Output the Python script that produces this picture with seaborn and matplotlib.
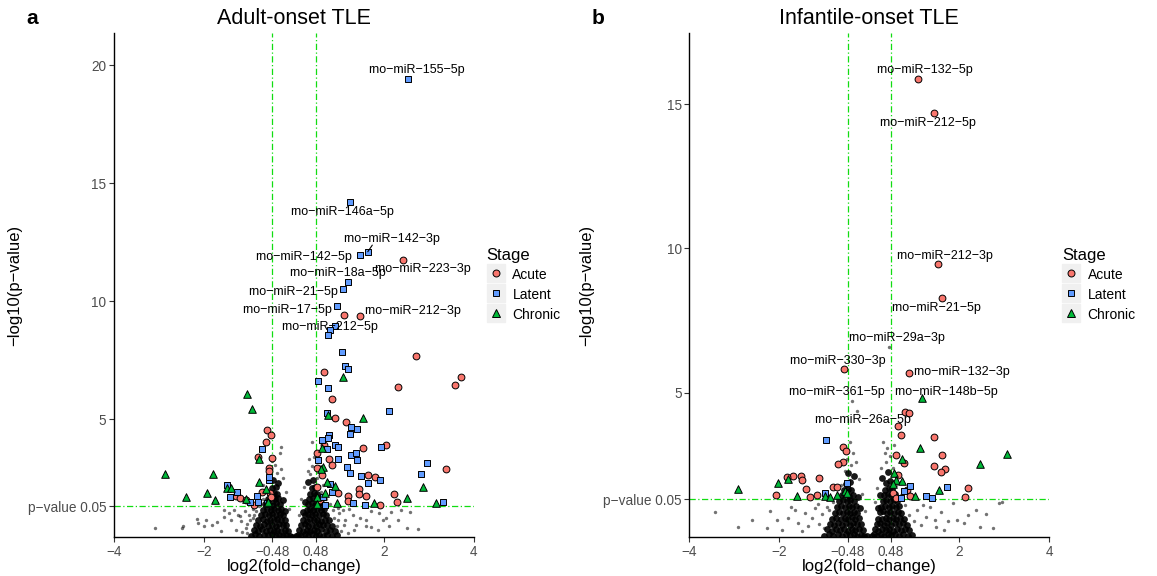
import pandas as pd
import matplotlib
matplotlib.use("Agg")
import matplotlib.pyplot as plt
import seaborn as sns
from matplotlib.lines import Line2D
from matplotlib.legend_handler import HandlerTuple

M = "\u2212"  # ggplot draws hyphens as true minus signs

STAGES = ["Acute", "Latent", "Chronic"]
PALETTE = {"Acute": "#F8766D", "Latent": "#619CFF", "Chronic": "#00BA38"}
MARKERS = {"Acute": "o", "Latent": "s", "Chronic": "^"}
SIZES = {"Acute": 24, "Latent": 18, "Chronic": 30}
GREEN = "#11DD11"

# --- a: Adult-onset TLE (log2FC, -log10 p) ---
adult_acute = [
    (2.42, 11.74), (1.10, 9.42), (1.46, 9.35), (2.7, 7.66), (3.7, 6.77), (3.58, 6.44),
    (0.67, 7.0), (2.3, 6.34), (0.85, 5.85), (0.9, 5.03), (1.16, 4.89), (0.67, 3.9),
    (1.54, 3.78), (2.04, 3.9), (0.5, 3.57), (0.77, 3.3), (0.84, 3.05), (3.37, 2.88),
    (1.65, 2.63), (1.8, 2.53), (0.5, 2.91), (0.62, 2.63), (1.45, 2.03), (1.45, 1.82),
    (1.6, 1.74), (0.98, 1.85), (1.21, 1.75), (2.23, 1.81), (2.28, 1.5), (1.19, 1.53),
    (1.9, 1.36), (0.58, 1.57), (0.5, 2.13),
    (-0.61, 4.53), (-0.51, 4.32), (-0.62, 4.04), (-0.79, 3.38), (-0.48, 3.33),
    (-0.55, 2.91), (-0.55, 2.8), (-0.72, 1.92), (-1.29, 1.74), (-1.2, 1.64),
    (-0.89, 1.36), (-0.53, 1.85), (-0.52, 1.7), (-1.07, 1.55),
]
adult_latent = [
    (2.53, 19.4), (1.24, 14.2), (1.64, 12.07), (1.46, 11.95), (1.21, 10.82), (1.08, 10.5),
    (0.95, 9.79), (0.90, 8.95), (0.8, 8.77), (0.75, 8.55), (1.06, 7.85), (1.13, 7.25),
    (1.21, 7.12), (0.54, 6.61), (0.76, 6.3), (2.12, 5.34), (0.74, 5.27), (1.27, 4.67),
    (1.39, 4.56), (1.24, 4.36), (0.78, 4.32), (0.76, 4.18), (0.62, 4.11), (0.9, 3.9),
    (0.98, 3.8), (0.73, 3.71), (1.93, 3.8), (1.27, 3.47), (1.38, 3.57), (0.97, 3.3),
    (1.39, 3.26), (0.54, 3.26), (2.95, 3.12), (1.18, 2.95), (1.24, 2.72), (2.82, 2.67),
    (1.49, 2.6), (1.91, 2.42), (1.65, 2.3), (0.8, 2.25), (0.84, 1.92), (0.65, 1.71),
    (1.3, 1.43), (1.58, 1.36), (3.32, 1.5), (0.69, 1.36),
    (-0.72, 3.74), (-1.48, 2.2), (-1.26, 1.92), (-1.42, 1.68), (-0.83, 1.74),
    (-0.98, 1.5), (-0.79, 1.5), (-0.55, 2.42), (-0.56, 2.55), (-0.6, 1.45),
]
adult_chronic = [
    (1.08, 6.77), (1.54, 5.03), (0.75, 5.17), (0.63, 3.76), (0.65, 2.98), (0.6, 2.9),
    (0.73, 2.34), (0.9, 2.16), (2.86, 2.1), (2.5, 1.67), (3.15, 1.45), (1.78, 1.43),
    (0.95, 1.43), (0.69, 1.85), (0.5, 1.7), (0.52, 1.38),
    (-1.05, 6.06), (-0.94, 5.41), (-2.87, 2.67), (-1.81, 2.67), (-2.41, 1.71),
    (-1.93, 1.85), (-1.76, 1.57), (-1.48, 2.06), (-1.41, 2.06), (-0.78, 3.29),
    (-0.77, 2.34), (-1.07, 1.6), (-0.63, 2.02), (-0.61, 1.43), (-0.58, 1.5),
]
# non-significant miRNAs: dense volcano core and the sparse spray around it
adult_core = [
    (-0.96, 0.06), (-0.86, 0.12), (-0.77, 0.04), (-0.67, 0.1), (-0.58, 0.07), (-0.49, 0.13),
    (-0.41, 0.05), (-0.33, 0.1), (-0.25, 0.04), (-0.17, 0.09), (-0.1, 0.05), (-0.05, 0.02),
    (-0.9, 0.3), (-0.8, 0.25), (-0.71, 0.32), (-0.62, 0.27), (-0.53, 0.3), (-0.45, 0.24),
    (-0.37, 0.31), (-0.29, 0.26), (-0.21, 0.3), (-0.13, 0.27),
    (-0.85, 0.52), (-0.75, 0.47), (-0.66, 0.54), (-0.57, 0.48), (-0.49, 0.52), (-0.41, 0.46),
    (-0.33, 0.53), (-0.25, 0.49), (-0.17, 0.51),
    (-0.8, 0.7), (-0.7, 0.75), (-0.61, 0.69), (-0.53, 0.74), (-0.45, 0.7), (-0.37, 0.76),
    (-0.29, 0.71), (-0.21, 0.73),
    (-0.74, 0.93), (-0.65, 0.97), (-0.56, 0.92), (-0.48, 0.98), (-0.4, 0.94), (-0.32, 0.97),
    (-0.25, 0.92),
    (-0.69, 1.15), (-0.6, 1.2), (-0.52, 1.14), (-0.44, 1.19), (-0.36, 1.16), (-0.29, 1.2),
    (-0.64, 1.38), (-0.55, 1.42), (-0.47, 1.37), (-0.39, 1.43), (-0.32, 1.4),
    (-0.58, 1.6), (-0.5, 1.65), (-0.42, 1.61), (-0.35, 1.64),
    (-0.53, 1.83), (-0.45, 1.88), (-0.38, 1.84), (-0.49, 2.08), (-0.41, 2.14),
    (-0.46, 2.4), (-0.35, 2.3), (-0.25, 1.55), (-0.2, 1.1),
    (0.04, 0.03), (0.09, 0.08), (0.16, 0.05), (0.24, 0.11), (0.32, 0.06), (0.4, 0.12),
    (0.48, 0.05), (0.56, 0.1), (0.65, 0.04), (0.74, 0.09), (0.84, 0.06), (0.95, 0.1),
    (0.12, 0.29), (0.2, 0.25), (0.28, 0.31), (0.36, 0.26), (0.44, 0.3), (0.52, 0.24),
    (0.61, 0.32), (0.7, 0.27), (0.8, 0.3), (0.9, 0.26),
    (0.16, 0.5), (0.24, 0.53), (0.32, 0.47), (0.4, 0.52), (0.48, 0.48), (0.56, 0.54),
    (0.65, 0.49), (0.74, 0.52), (0.84, 0.47),
    (0.2, 0.72), (0.28, 0.69), (0.36, 0.75), (0.44, 0.7), (0.52, 0.74), (0.6, 0.69),
    (0.69, 0.73), (0.78, 0.7),
    (0.24, 0.94), (0.31, 0.98), (0.39, 0.92), (0.47, 0.97), (0.55, 0.93), (0.64, 0.98),
    (0.72, 0.93),
    (0.28, 1.16), (0.35, 1.2), (0.43, 1.14), (0.51, 1.19), (0.59, 1.15), (0.67, 1.2),
    (0.31, 1.39), (0.39, 1.43), (0.47, 1.37), (0.55, 1.42), (0.63, 1.38),
    (0.34, 1.61), (0.42, 1.65), (0.5, 1.6), (0.58, 1.64),
    (0.36, 1.84), (0.44, 1.88), (0.52, 1.83), (0.39, 2.08), (0.47, 2.13),
    (0.42, 2.4), (0.3, 2.35), (0.25, 1.5), (0.2, 1.05),
]
adult_spray = [
    (-0.38, 2.7), (-0.42, 3.05), (-0.31, 3.55), (-0.28, 3.8), (0.36, 2.65), (0.4, 3.0),
    (0.39, 4.04), (0.44, 3.4),
    (-0.62, 1.9), (-0.55, 2.6), (-0.5, 3.2), (-0.3, 2.9), (-0.25, 2.5), (-0.18, 1.9),
    (-0.7, 1.6), (-0.78, 1.3), (-0.85, 1.1), (-1.05, 0.55), (-1.2, 0.9), (0.15, 1.6),
    (0.22, 2.1), (0.3, 2.8), (0.5, 2.5), (0.55, 3.0), (0.6, 1.9), (0.7, 1.6), (0.8, 1.4),
    (0.88, 0.8), (1.1, 0.5), (0.33, 3.3), (-0.12, 1.2), (0.1, 0.95), (-0.92, 0.8),
    (0.98, 0.7), (-0.68, 2.2), (0.65, 2.2),
    (-3.09, 0.37), (-2.5, 0.37), (-2.47, 0.47), (-2.16, 0.75), (-2.13, 0.58), (-2.0, 0.45),
    (-1.96, 0.7), (-1.82, 0.5), (-1.56, 1.14), (-1.55, 0.83), (-1.44, 1.0), (-1.4, 0.7),
    (-1.33, 1.15), (-1.25, 0.93), (-1.18, 0.66), (-1.1, 1.1), (-1.07, 0.4), (-1.0, 0.95),
    (-0.97, 0.7), (-1.3, 0.3), (-1.62, 0.25), (-0.92, 1.2), (-1.15, 0.2), (-0.88, 0.95),
    (-1.72, 0.62), (-1.05, 0.15),
    (0.87, 1.14), (1.0, 1.0), (1.08, 1.15), (1.14, 0.7), (1.3, 0.95), (1.37, 0.5),
    (1.47, 0.8), (1.6, 0.45), (1.7, 1.1), (1.88, 1.0), (2.05, 0.8), (2.12, 0.45),
    (2.37, 1.15), (2.5, 0.37), (2.76, 0.33), (2.32, 0.72), (2.58, 1.07), (1.87, 0.3),
    (1.7, 0.44), (1.6, 0.72), (1.34, 0.3), (1.97, 0.72), (2.15, 1.07), (0.95, 0.45),
    (1.05, 0.25), (1.2, 0.15), (0.98, 1.25), (1.22, 1.2),
]
adult_label_names = [
    "rno-miR-155-5p", "rno-miR-146a-5p", "rno-miR-142-3p", "rno-miR-142-5p",
    "rno-miR-223-3p", "rno-miR-18a-5p", "rno-miR-21-5p", "rno-miR-17-5p",
    "rno-miR-212-3p", "rno-miR-212-5p",
]
adult_label_xy = [
    (2.71, 19.8), (1.07, 13.78), (2.17, 12.63), (0.22, 11.88), (2.85, 11.34),
    (0.97, 11.17), (-0.01, 10.39), (-0.15, 9.62), (2.64, 9.59), (0.79, 8.89),
]

# --- b: Infantile-onset TLE ---
infant_acute = [
    (1.08, 15.87), (1.44, 14.68), (1.52, 9.45), (1.62, 8.27), (-0.56, 5.81), (0.88, 5.69),
    (0.79, 4.34), (0.88, 4.28), (0.63, 3.84), (0.7, 3.53), (1.44, 3.45), (-0.58, 3.11),
    (-0.52, 2.99), (0.59, 2.84), (1.61, 2.84), (-0.58, 2.61), (-0.69, 2.52), (0.76, 2.57),
    (1.44, 2.47), (1.68, 2.36), (1.59, 2.24), (-1.7, 2.11), (-1.52, 2.11), (-1.5, 1.97),
    (-1.11, 2.03), (0.64, 2.15), (-1.41, 1.65), (-0.81, 1.72), (-0.71, 1.72),
    (-2.07, 1.45), (-1.32, 1.4), (-1.16, 1.45), (0.53, 1.51), (0.59, 1.34), (0.83, 1.63),
    (0.9, 1.42), (2.2, 1.69), (2.13, 1.37), (-1.82, 2.09),
]
infant_latent = [
    (-0.97, 3.36), (-0.5, 1.86), (-0.98, 1.53), (0.9, 1.77), (0.76, 1.59), (0.71, 1.34),
    (1.25, 1.42), (1.39, 1.34), (1.73, 1.72),
]
infant_chronic = [
    (1.18, 4.8), (1.13, 3.07), (3.05, 2.86), (2.46, 2.53), (0.72, 2.7), (0.55, 2.23),
    (0.59, 1.97), (0.72, 1.94), (0.52, 1.84), (1.55, 1.63), (1.02, 1.42), (-2.91, 1.65),
    (-2.04, 1.86), (-1.8, 2.01), (-1.61, 1.42), (-0.98, 1.42), (-0.87, 1.4),
    (-0.72, 1.45), (-0.54, 1.6), (-0.5, 1.51),
]
infant_core = [
    (-1.0, 0.05), (-0.9, 0.1), (-0.8, 0.04), (-0.7, 0.09), (-0.61, 0.05), (-0.52, 0.11),
    (-0.43, 0.06), (-0.35, 0.1), (-0.27, 0.04), (-0.19, 0.08), (-0.12, 0.05), (-0.06, 0.03),
    (-0.93, 0.27), (-0.83, 0.22), (-0.74, 0.28), (-0.65, 0.23), (-0.56, 0.27), (-0.47, 0.22),
    (-0.39, 0.28), (-0.31, 0.24), (-0.23, 0.27), (-0.15, 0.23),
    (-0.88, 0.46), (-0.78, 0.42), (-0.69, 0.47), (-0.6, 0.43), (-0.52, 0.47), (-0.44, 0.42),
    (-0.36, 0.48), (-0.28, 0.44), (-0.19, 0.46),
    (-0.83, 0.63), (-0.73, 0.67), (-0.64, 0.62), (-0.55, 0.66), (-0.47, 0.63), (-0.39, 0.68),
    (-0.31, 0.64), (-0.23, 0.66),
    (-0.77, 0.84), (-0.68, 0.88), (-0.59, 0.83), (-0.5, 0.87), (-0.42, 0.84), (-0.34, 0.88),
    (-0.27, 0.83),
    (-0.72, 1.04), (-0.63, 1.08), (-0.54, 1.03), (-0.46, 1.07), (-0.38, 1.04), (-0.3, 1.08),
    (-0.67, 1.24), (-0.58, 1.28), (-0.5, 1.23), (-0.42, 1.27), (-0.34, 1.24),
    (-0.61, 1.44), (-0.53, 1.48), (-0.45, 1.43), (-0.37, 1.47),
    (-0.56, 1.64), (-0.48, 1.68), (-0.41, 1.63), (-0.51, 1.84), (-0.44, 1.9),
    (-0.47, 2.2), (-0.33, 2.1), (-0.25, 1.4), (-0.21, 1.0),
    (0.05, 0.04), (0.1, 0.09), (0.17, 0.05), (0.25, 0.1), (0.33, 0.05), (0.41, 0.11),
    (0.49, 0.06), (0.57, 0.1), (0.66, 0.04), (0.75, 0.09), (0.85, 0.05), (0.95, 0.08),
    (0.12, 0.26), (0.2, 0.22), (0.28, 0.28), (0.36, 0.23), (0.44, 0.27), (0.52, 0.22),
    (0.61, 0.28), (0.7, 0.24), (0.8, 0.27), (0.89, 0.23),
    (0.16, 0.45), (0.24, 0.48), (0.32, 0.43), (0.4, 0.47), (0.48, 0.42), (0.56, 0.48),
    (0.65, 0.44), (0.74, 0.47), (0.83, 0.43),
    (0.2, 0.64), (0.28, 0.61), (0.36, 0.67), (0.44, 0.62), (0.52, 0.66), (0.6, 0.61),
    (0.69, 0.66), (0.77, 0.63),
    (0.24, 0.85), (0.31, 0.89), (0.39, 0.83), (0.47, 0.88), (0.55, 0.84), (0.63, 0.88),
    (0.71, 0.83),
    (0.27, 1.05), (0.35, 1.09), (0.43, 1.03), (0.51, 1.08), (0.59, 1.04), (0.67, 1.09),
    (0.3, 1.24), (0.38, 1.28), (0.46, 1.23), (0.54, 1.27), (0.62, 1.24),
    (0.33, 1.45), (0.41, 1.49), (0.49, 1.44), (0.57, 1.48),
    (0.35, 1.64), (0.43, 1.69), (0.51, 1.65), (0.38, 1.88), (0.46, 1.95),
    (0.41, 2.25), (0.29, 2.05), (0.24, 1.45), (0.2, 1.0),
]
infant_spray = [
    (-0.4, 2.5), (-0.36, 2.9), (-0.39, 4.72), (-0.28, 4.38), (-0.42, 3.3),
    (0.37, 2.6), (0.44, 6.59), (0.4, 3.1), (0.34, 2.9), (0.45, 2.8),
    (-0.63, 1.8), (-0.55, 2.3), (-0.3, 2.6), (-0.22, 2.0), (-0.16, 1.5), (-0.72, 1.45),
    (-0.8, 1.2), (-0.9, 0.95), (-0.1, 0.9), (0.12, 1.2), (0.18, 1.7), (0.26, 2.4),
    (0.52, 2.4), (0.6, 1.8), (0.7, 1.45), (0.8, 1.1), (0.88, 0.75), (0.3, 3.3),
    (-0.5, 2.7), (0.55, 3.2),
    (-3.43, 0.88), (-2.91, 0.36), (-2.61, 0.59), (-2.28, 0.32), (-2.06, 0.59), (-1.93, 0.24),
    (-1.8, 0.66), (-1.66, 0.95), (-1.58, 0.48), (-1.42, 0.83), (-1.36, 0.38), (-1.28, 0.65),
    (-1.2, 1.0), (-1.12, 0.45), (-1.05, 0.8), (-1.5, 0.2), (-1.75, 1.05), (-2.2, 0.9),
    (-1.15, 1.15), (-0.95, 1.05), (-1.0, 0.3),
    (1.05, 0.93), (1.27, 0.7), (1.49, 0.36), (1.66, 0.24), (1.87, 1.17), (1.95, 0.6),
    (2.1, 0.5), (2.38, 0.93), (2.45, 0.36), (2.74, 0.3), (2.89, 1.17), (2.95, 1.2),
    (1.15, 0.4), (1.35, 1.05), (1.6, 0.85), (1.75, 0.55), (2.2, 0.75), (1.0, 0.55),
    (1.2, 1.1), (1.45, 0.6), (2.6, 0.8),
]
infant_label_names = [
    "rno-miR-132-5p", "rno-miR-212-5p", "rno-miR-212-3p", "rno-miR-21-5p",
    "rno-miR-29a-3p", "rno-miR-330-3p", "rno-miR-132-3p", "rno-miR-361-5p",
    "rno-miR-148b-5p", "rno-miR-26a-5p",
]
infant_label_xy = [
    (1.23, 16.18), (1.3, 14.33), (1.67, 9.74), (1.48, 7.92), (0.6, 6.88),
    (-0.7, 6.1), (2.05, 5.7), (-0.72, 5.01), (1.71, 5.03), (-0.14, 4.05),
]

x_ticks = [-4, -2, -0.48, 0.48, 2, 4]
x_ticklabels = [M + "4", M + "2", M + "0.48", "0.48", "2", "4"]
p_cut = 1.301


def stage_frame(acute, latent, chronic):
    rows = []
    for stage, pts in zip(STAGES, (acute, latent, chronic)):
        rows += [(x, y, stage) for x, y in pts]
    return pd.DataFrame(rows, columns=["log2fc", "logp", "Stage"])


def volcano(ax, core, spray, df, names, label_xy, ymax, yticks):
    cdf = pd.DataFrame(core, columns=["log2fc", "logp"])
    sdf = pd.DataFrame(spray, columns=["log2fc", "logp"])
    sns.scatterplot(data=cdf, x="log2fc", y="logp", color="black", s=24, alpha=0.9,
                    linewidth=0, ax=ax, legend=False, zorder=2)
    sns.scatterplot(data=sdf, x="log2fc", y="logp", color="black", s=6, alpha=0.55,
                    linewidth=0, ax=ax, legend=False, zorder=2)
    for st in STAGES:
        sub = df[df["Stage"] == st]
        sns.scatterplot(data=sub, x="log2fc", y="logp", color=PALETTE[st],
                        marker=MARKERS[st], s=SIZES[st], edgecolor="black",
                        linewidth=0.7, ax=ax, legend=False, zorder=3)
    dash = (0, (5, 2, 1, 2))
    for xv in (-0.48, 0.48):
        ax.axvline(xv, color=GREEN, lw=0.9, ls=dash, zorder=1)
    ax.axhline(p_cut, color=GREEN, lw=0.9, ls=dash, zorder=1)
    for name, (x, y) in zip(names, label_xy):
        ax.text(x, y, name.replace("-", M), ha="center", va="center", fontsize=9,
                color="black", zorder=4)

    ax.set_xlim(-4, 4)
    ax.set_ylim(0, ymax)
    ax.set_xticks(x_ticks)
    ax.set_xticklabels(x_ticklabels)
    ax.set_yticks([p_cut] + yticks)
    ax.set_yticklabels(["p" + M + "value 0.05"] + [str(v) for v in yticks])
    ax.tick_params(labelsize=9.8, labelcolor="#4D4D4D", color="#333333", length=3.5,
                   width=0.8, pad=2)
    ax.set_xlabel("log2(fold" + M + "change)", fontsize=12, color="black")
    ax.set_ylabel(M + "log10(p" + M + "value)", fontsize=12, color="black")
    ax.xaxis.set_label_coords(0.5, -0.043)
    for side in ("left", "bottom"):
        ax.spines[side].set_linewidth(1.0)
        ax.spines[side].set_color("black")
    sns.despine(ax=ax)

    handles = []
    for st in STAGES:
        box = Line2D([], [], marker="s", ls="", markersize=13.5, markerfacecolor="#F0F0F0",
                     markeredgecolor="#F0F0F0")
        mk = Line2D([], [], marker=MARKERS[st], ls="", markersize=5 if st != "Chronic" else 6,
                    markerfacecolor=PALETTE[st], markeredgecolor="black", markeredgewidth=0.7)
        handles.append((box, mk))
    leg = ax.legend(handles, STAGES, handler_map={tuple: HandlerTuple(ndivide=1, pad=0)},
                    title="Stage", title_fontsize=12, fontsize=10, frameon=False,
                    loc="center left", bbox_to_anchor=(1.02, 0.5), handlelength=1.3,
                    handleheight=1.35, handletextpad=0.55, labelspacing=0.3,
                    alignment="left", borderaxespad=0)
    for t in leg.get_texts():
        t.set_color("black")
    leg.get_title().set_color("black")


sns.set_theme(style="ticks")
plt.rcParams["font.family"] = ["Liberation Sans", "DejaVu Sans"]
plt.rcParams["text.color"] = "black"

W, H = 1157, 576
fig = plt.figure(figsize=(W / 100, H / 100), dpi=100)
ax_a = fig.add_axes([114 / W, 39 / H, 360 / W, 504 / H])
ax_b = fig.add_axes([689.3 / W, 39 / H, 360 / W, 504 / H])

volcano(ax_a, adult_core, adult_spray, stage_frame(adult_acute, adult_latent, adult_chronic),
        adult_label_names, adult_label_xy, 21.36, [5, 10, 15, 20])
volcano(ax_b, infant_core, infant_spray, stage_frame(infant_acute, infant_latent, infant_chronic),
        infant_label_names, infant_label_xy, 17.46, [5, 10, 15])

# short leader from the 142-3p label to its point
ax_a.plot([1.74, 1.64], [12.37, 12.09], color="black", lw=0.8, zorder=4)

ax_a.yaxis.set_label_coords(-0.256, 0.5)
ax_b.yaxis.set_label_coords(-0.263, 0.5)

fig.text(294 / W, 1 - 18 / H, "Adult-onset TLE", ha="center", va="center", fontsize=15.5)
fig.text(869 / W, 1 - 18 / H, "Infantile-onset TLE", ha="center", va="center", fontsize=15.5)
fig.text(32 / W, 1 - 18 / H, "a", ha="center", va="center", fontsize=15, fontweight="bold")
fig.text(598 / W, 1 - 18 / H, "b", ha="center", va="center", fontsize=15, fontweight="bold")

fig.savefig("out.png", dpi=100)
